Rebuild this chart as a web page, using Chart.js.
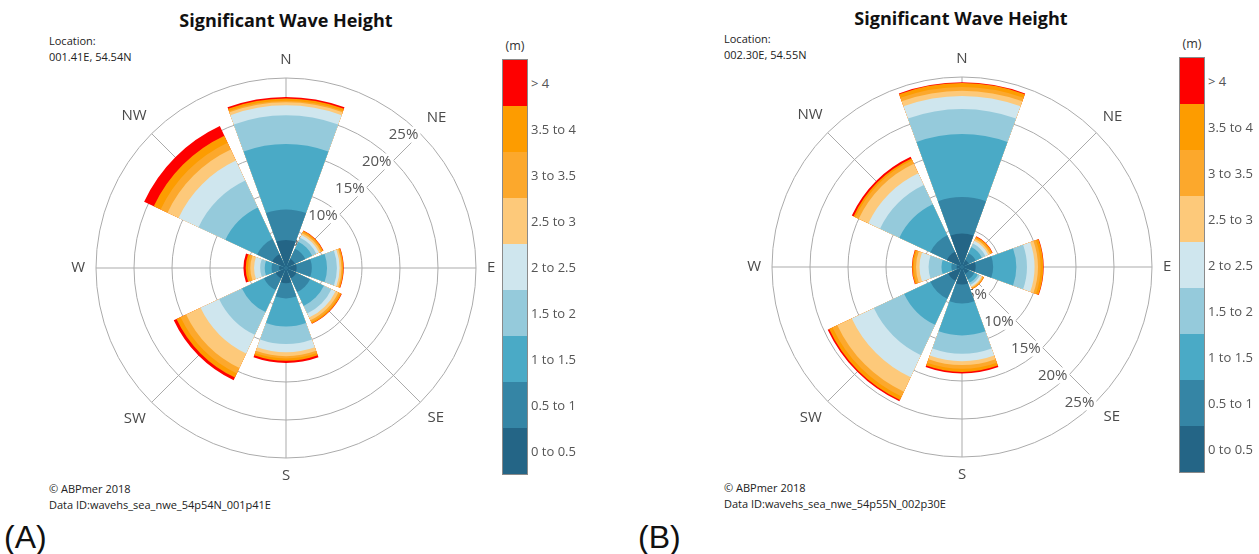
<!DOCTYPE html>
<html>
<head>
<meta charset="utf-8">
<title>Significant Wave Height roses</title>
<script src="https://cdn.jsdelivr.net/npm/chart.js@4.4.0/dist/chart.umd.min.js"></script>
<style>
  html, body { margin: 0; padding: 0; background: #fff; }
  body { width: 1259px; height: 554px; position: relative; overflow: hidden; font-family: "Open Sans", "Noto Sans", sans-serif; }
  .abs { position: absolute; white-space: nowrap; }
  .title { font-weight: 700; font-size: 18px; line-height: 24px; color: #111; transform: translateX(-50%); }
  .meta { font-size: 11px; line-height: 15.5px; color: #222; }
  .panel { font-family: "Liberation Sans", Arial, sans-serif; font-size: 32px; line-height: 36px; color: #111; }
  .unit { font-size: 12.5px; line-height: 16px; color: #333; transform: translateX(-50%); }
  .cbar { position: absolute; width: 24px; border: 1px solid #8a8a8a; box-sizing: content-box; }
  .cbar div { height: 46px; }
  .cblab { position: absolute; font-size: 13px; line-height: 16px; color: #555; white-space: nowrap; }
  canvas { position: absolute; }
</style>
</head>
<body>

<div class="abs title" style="left:286px; top:8px;">Significant Wave Height</div>
<div class="abs meta" style="left:49px; top:33px;">Location:<br>001.41E, 54.54N</div>
<div class="abs meta" style="left:49px; top:481px;">© ABPmer 2018<br>Data ID:wavehs_sea_nwe_54p54N_001p41E</div>
<div class="abs panel" style="left:4px; top:519px;">(A)</div>
<div class="abs unit" style="left:515px; top:38px;">(m)</div>
<canvas id="roseA" width="440" height="440" style="left:66px; top:48px;"></canvas>

<div class="abs title" style="left:961px; top:6px;">Significant Wave Height</div>
<div class="abs meta" style="left:724px; top:31px;">Location:<br>002.30E, 54.55N</div>
<div class="abs meta" style="left:724px; top:480px;">© ABPmer 2018<br>Data ID:wavehs_sea_nwe_54p55N_002p30E</div>
<div class="abs panel" style="left:638px; top:519px;">(B)</div>
<div class="abs unit" style="left:1192px; top:36px;">(m)</div>
<canvas id="roseB" width="440" height="440" style="left:742px; top:47px;"></canvas>

<script>
// Direction sectors, clockwise from north
const directions = ['N', 'NE', 'E', 'SE', 'S', 'SW', 'W', 'NW'];
// Significant wave height classes (m), lowest first
const heightBins = ['0 to 0.5', '0.5 to 1', '1 to 1.5', '1.5 to 2', '2 to 2.5', '2.5 to 3', '3 to 3.5', '3.5 to 4', '> 4'];
const binColours = ['#246586', '#3585a5', '#4aaac6', '#95cadb', '#cfe6ee', '#fdc97a', '#fca82c', '#fd9c00', '#fe0000'];
// Radial axis (% occurrence)
const ringStep = 5;
const ringMax = 25;

// Site A: occurrence (%) per direction, one array per height class
const siteA_h0_05 = [3.7, 1.3, 1.4, 1.5, 2.0, 1.5, 0.9, 2.0];
const siteA_h05_1 = [4.0, 1.5, 2.0, 2.0, 2.0, 1.7, 1.0, 2.2];
const siteA_h1_15 = [8.6, 1.0, 2.0, 2.0, 3.7, 3.2, 0.9, 4.6];
const siteA_h15_2 = [3.8, 0.6, 1.3, 1.1, 2.3, 3.3, 0.6, 3.9];
const siteA_h2_25 = [1.3, 0.4, 0.35, 0.6, 1.1, 2.7, 0.8, 2.9];
const siteA_h25_3 = [0.4, 0.25, 0.25, 0.4, 0.5, 2.1, 0.5, 1.6];
const siteA_h3_35 = [0.2, 0.2, 0.15, 0.25, 0.3, 0.8, 0.3, 1.0];
const siteA_h35_4 = [0.3, 0.15, 0.1, 0.2, 0.3, 0.6, 0.3, 1.0];
const siteA_h4up  = [0.2, 0.05, 0.05, 0.05, 0.3, 0.4, 0.3, 1.4];

// Site B
const siteB_h0_05 = [4.4, 1.0, 1.8, 1.0, 2.3, 2.0, 0.7, 2.2];
const siteB_h05_1 = [4.8, 1.0, 2.3, 0.8, 2.5, 2.6, 0.7, 2.4];
const siteB_h1_15 = [8.3, 0.9, 3.05, 0.5, 4.2, 3.8, 1.3, 4.5];
const siteB_h15_2 = [3.3, 0.5, 1.4, 0.3, 2.4, 4.4, 1.7, 2.8];
const siteB_h2_25 = [1.7, 0.4, 1.0, 0.25, 1.0, 3.2, 1.2, 1.7];
const siteB_h25_3 = [0.7, 0.25, 0.45, 0.15, 0.5, 2.1, 0.45, 1.4];
const siteB_h3_35 = [0.5, 0.2, 0.35, 0.1, 0.5, 0.7, 0.3, 0.5];
const siteB_h35_4 = [0.5, 0.15, 0.35, 0.1, 0.4, 0.5, 0.2, 0.25];
const siteB_h4up  = [0.1, 0.05, 0.05, 0.0, 0.2, 0.2, 0.05, 0.25];

const sectorWidth = 40;   // degrees covered by each petal
const sectorGap = 5;      // degrees left blank between petals
const gridColour = '#ababab';

// Colour key with labels
function buildColourBar(left, top) {
  const bar = document.createElement('div');
  bar.className = 'cbar';
  bar.style.left = left + 'px';
  bar.style.top = top + 'px';
  for (let k = heightBins.length - 1; k >= 0; k--) {
    const cell = document.createElement('div');
    cell.style.background = binColours[k];
    bar.appendChild(cell);
    const lab = document.createElement('div');
    lab.className = 'cblab';
    lab.textContent = heightBins[k];
    lab.style.left = (left + 29) + 'px';
    lab.style.top = (top + 1 + (heightBins.length - 1 - k) * 46 + 15) + 'px';
    document.body.appendChild(lab);
  }
  document.body.appendChild(bar);
}

// Rings' percentage labels along one bearing, spokes, and compass labels
function roseFrame(tickBearing) {
  const rad = d => d * Math.PI / 180;
  return {
    id: 'roseFrame',
    beforeDatasetsDraw(chart) {
      const s = chart.scales.r, ctx = chart.ctx;
      const cx = s.xCenter, cy = s.yCenter;
      const R = s.getDistanceFromCenterForValue(s.max);
      ctx.save();
      ctx.strokeStyle = gridColour;
      ctx.lineWidth = 1;
      directions.forEach((d, i) => {
        const a = rad(i * 45);
        ctx.beginPath();
        ctx.moveTo(cx, cy);
        ctx.lineTo(cx + R * Math.sin(a), cy - R * Math.cos(a));
        ctx.stroke();
      });
      ctx.font = '15px "Open Sans"';
      ctx.textAlign = 'right';
      ctx.textBaseline = 'middle';
      const a = rad(tickBearing);
      s.ticks.forEach(t => {
        if (t.value <= 0) return;
        const r = s.getDistanceFromCenterForValue(t.value);
        const x = cx + r * Math.sin(a) - 2;
        const y = cy - r * Math.cos(a) + 1;
        const w = ctx.measureText(t.label).width;
        ctx.fillStyle = '#fff';
        ctx.fillRect(x - w - 2, y - 8, w + 4, 16);
        ctx.fillStyle = '#555';
        ctx.fillText(t.label, x, y);
      });
      ctx.restore();
    },
    afterDatasetsDraw(chart) {
      const s = chart.scales.r, ctx = chart.ctx;
      const cx = s.xCenter, cy = s.yCenter;
      const R = s.getDistanceFromCenterForValue(s.max);
      ctx.save();
      ctx.font = '15px "Open Sans"';
      ctx.fillStyle = '#4a4a4a';
      ctx.textAlign = 'center';
      ctx.textBaseline = 'middle';
      directions.forEach((d, i) => {
        const a = rad(i * 45);
        const w = ctx.measureText(d).width;
        const ext = Math.abs(Math.sin(a)) * w / 2 + Math.abs(Math.cos(a)) * 7;
        const r = R + 11 + ext;
        ctx.fillText(d, cx + r * Math.sin(a), cy - r * Math.cos(a));
      });
      ctx.restore();
    }
  };
}

function buildRose(id, bins, tickBearing) {
  // stack the classes: each layer reaches the running total
  let running = directions.map(() => 0);
  const layers = bins.map(b => {
    running = running.map((v, i) => v + b[i]);
    return running.slice();
  });
  // every petal is followed by an empty gap sector
  const labels = directions.flatMap(d => [d, '']);
  const datasets = layers.map((layer, k) => ({
    label: heightBins[k],
    data: layer.flatMap(v => [v, 0]),
    backgroundColor: binColours[k],
    borderWidth: 0,
    angle: ctx => (ctx.dataIndex % 2 === 0 ? sectorWidth : sectorGap)
  }));
  return new Chart(document.getElementById(id), {
    type: 'polarArea',
    data: { labels, datasets },
    options: {
      responsive: false,
      animation: false,
      layout: { padding: 30 },
      plugins: { legend: { display: false }, tooltip: { enabled: false } },
      scales: {
        r: {
          min: 0,
          max: ringMax,
          startAngle: -sectorWidth / 2,
          ticks: { display: false, stepSize: ringStep, callback: v => v + '%' },
          grid: { circular: true, color: gridColour, lineWidth: 1 },
          angleLines: { display: false },
          pointLabels: { display: false }
        }
      }
    },
    plugins: [roseFrame(tickBearing)]
  });
}

buildColourBar(502, 59);
buildColourBar(1179, 57);

buildRose('roseA', [siteA_h0_05, siteA_h05_1, siteA_h1_15, siteA_h15_2, siteA_h2_25,
                    siteA_h25_3, siteA_h3_35, siteA_h35_4, siteA_h4up], 45);
buildRose('roseB', [siteB_h0_05, siteB_h05_1, siteB_h1_15, siteB_h15_2, siteB_h2_25,
                    siteB_h25_3, siteB_h3_35, siteB_h35_4, siteB_h4up], 135);
</script>
</body>
</html>
